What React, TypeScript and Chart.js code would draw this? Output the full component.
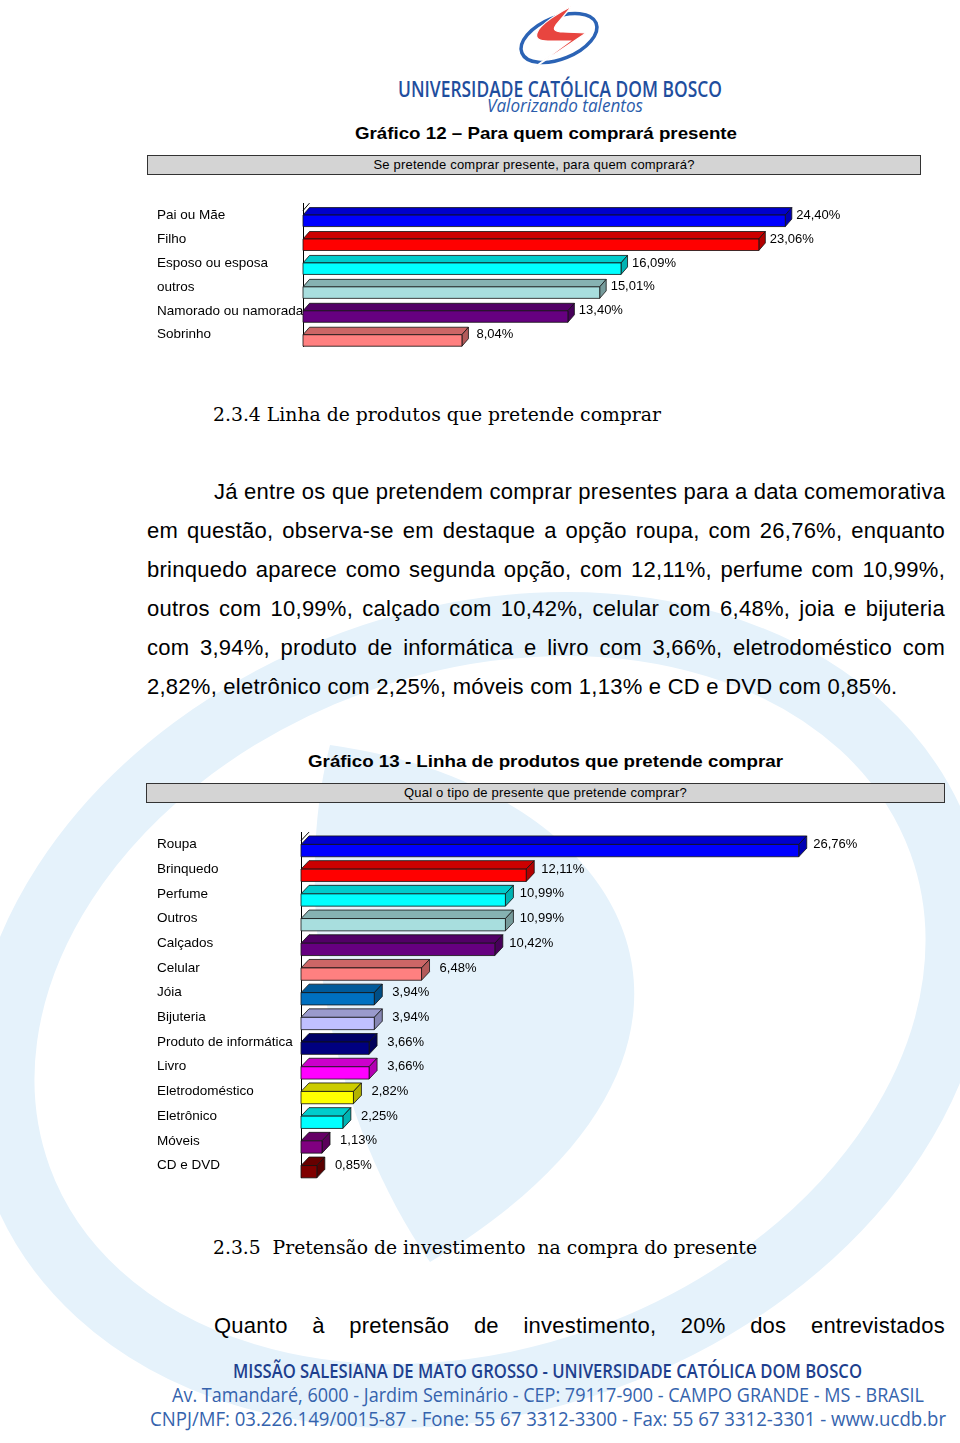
import React, { useEffect, useRef } from 'react';
import { Chart, registerables } from 'chart.js';

Chart.register(...registerables);

// ---------- DATA ----------
const chart1Categories = ['Pai ou Mãe', 'Filho', 'Esposo ou esposa', 'outros', 'Namorado ou namorada', 'Sobrinho'];
const chart1Values = [24.4, 23.06, 16.09, 15.01, 13.4, 8.04];
const chart1Colors = ['#0000FF', '#FF0000', '#00FFFF', '#A8DEDE', '#660080', '#FF8080'];

const chart2Categories = [
  'Roupa', 'Brinquedo', 'Perfume', 'Outros', 'Calçados', 'Celular', 'Jóia', 'Bijuteria',
  'Produto de informática', 'Livro', 'Eletrodoméstico', 'Eletrônico', 'Móveis', 'CD e DVD',
];
const chart2Values = [26.76, 12.11, 10.99, 10.99, 10.42, 6.48, 3.94, 3.94, 3.66, 3.66, 2.82, 2.25, 1.13, 0.85];
const chart2Colors = [
  '#0000FF', '#FF0000', '#00FFFF', '#A8DEDE', '#660080', '#FF8080', '#0070C0', '#C0C0FF',
  '#000080', '#FF00FF', '#FFFF00', '#00FFFF', '#800080', '#800000',
];

const chart1Title = 'Gráfico 12 – Para quem comprará presente';
const chart1Question = 'Se pretende comprar presente, para quem comprará?';
const chart2Title = 'Gráfico 13 - Linha de produtos que pretende comprar';
const chart2Question = 'Qual o tipo de presente que pretende comprar?';

const heading1 = '2.3.4 Linha de produtos que pretende comprar';
const paragraph1 = [
  'Já entre os que pretendem comprar presentes para a data comemorativa',
  'em questão, observa-se em destaque a opção roupa, com 26,76%, enquanto',
  'brinquedo aparece como segunda opção, com 12,11%, perfume com 10,99%,',
  'outros com 10,99%, calçado com 10,42%, celular com 6,48%, joia e bijuteria',
  'com 3,94%, produto de informática e livro com 3,66%, eletrodoméstico com',
  '2,82%, eletrônico com 2,25%, móveis com 1,13% e CD e DVD com 0,85%.',
];
const heading2 = '2.3.5  Pretensão de investimento  na compra do presente';
const paragraph2 = ['Quanto à pretensão de investimento, 20% dos entrevistados'];

const logoLine1 = 'UNIVERSIDADE CATÓLICA DOM BOSCO';
const logoLine2 = 'Valorizando talentos';
const footerLines = [
  'MISSÃO SALESIANA DE MATO GROSSO - UNIVERSIDADE CATÓLICA DOM BOSCO',
  'Av. Tamandaré, 6000 - Jardim Seminário - CEP: 79117-900 - CAMPO GRANDE - MS - BRASIL',
  'CNPJ/MF: 03.226.149/0015-87 - Fone: 55 67 3312-3300 - Fax: 55 67 3312-3301 - www.ucdb.br',
];

const SANS = '"Liberation Sans", Arial, sans-serif';

// ---------- helpers ----------
function shade(hex: string, f: number) {
  const n = parseInt(hex.slice(1), 16);
  const r = Math.round(((n >> 16) & 255) * f);
  const g = Math.round(((n >> 8) & 255) * f);
  const b = Math.round((n & 255) * f);
  return `rgb(${r},${g},${b})`;
}

const fmt = (v: number) => v.toFixed(2).replace('.', ',') + '%';

const bar3dPlugin = {
  id: 'bar3d',
  beforeDatasetDraw() {
    return false;
  },
  afterDatasetsDraw(chart: any, _args: any, opts: any) {
    const { ctx, chartArea } = chart;
    const { dx, dy, fh, labelOffset } = opts;
    ctx.save();
    ctx.strokeStyle = '#000';
    ctx.lineWidth = 1;
    ctx.beginPath();
    ctx.moveTo(chartArea.left, chartArea.top + dy);
    ctx.lineTo(chartArea.left + dx, chartArea.top);
    ctx.stroke();

    chart.data.datasets.forEach((ds: any, di: number) => {
      const meta = chart.getDatasetMeta(di);
      meta.data.forEach((el: any, i: number) => {
        const { x, y, base } = el.getProps(['x', 'y', 'base'], true);
        const col = ds.backgroundColor[i];
        const yt = y;
        const yb = y + fh;
        ctx.lineWidth = 0.8;
        ctx.strokeStyle = '#111';
        ctx.beginPath();
        ctx.moveTo(base, yt);
        ctx.lineTo(base + dx, yt - dy);
        ctx.lineTo(x + dx, yt - dy);
        ctx.lineTo(x, yt);
        ctx.closePath();
        ctx.fillStyle = shade(col, 0.8);
        ctx.fill();
        ctx.stroke();
        ctx.beginPath();
        ctx.moveTo(x, yt);
        ctx.lineTo(x + dx, yt - dy);
        ctx.lineTo(x + dx, yb - dy);
        ctx.lineTo(x, yb);
        ctx.closePath();
        ctx.fillStyle = shade(col, 0.7);
        ctx.fill();
        ctx.stroke();
        ctx.beginPath();
        ctx.rect(base, yt, x - base, fh);
        ctx.fillStyle = col;
        ctx.fill();
        ctx.stroke();
        ctx.fillStyle = '#000';
        ctx.font = `13px ${SANS}`;
        ctx.textAlign = 'center';
        ctx.textBaseline = 'middle';
        ctx.fillText(fmt(ds.data[i]), x + labelOffset, y);
      });
    });
    ctx.restore();
  },
};

type BarCfg = {
  categories: string[];
  values: number[];
  colors: string[];
  width: number;
  height: number;
  axisWidth: number;
  max: number;
  padding: { top: number; bottom: number; left: number; right: number };
  dx: number;
  dy: number;
  fh: number;
  labelOffset: number;
};

function Bar3DChart({ cfg, style }: { cfg: BarCfg; style: React.CSSProperties }) {
  const ref = useRef<HTMLCanvasElement>(null);
  useEffect(() => {
    if (!ref.current) return;
    const chart = new Chart(ref.current, {
      type: 'bar',
      data: {
        labels: cfg.categories,
        datasets: [{ data: cfg.values, backgroundColor: cfg.colors, borderWidth: 0 }],
      },
      options: {
        indexAxis: 'y',
        responsive: false,
        animation: false,
        devicePixelRatio: 1,
        layout: { padding: cfg.padding },
        plugins: {
          legend: { display: false },
          tooltip: { enabled: false },
          bar3d: { dx: cfg.dx, dy: cfg.dy, fh: cfg.fh, labelOffset: cfg.labelOffset },
        } as any,
        scales: {
          x: { type: 'linear', min: 0, max: cfg.max, display: false },
          y: {
            type: 'category',
            grid: { display: false },
            border: { display: true, color: '#000', width: 1 },
            ticks: {
              autoSkip: false,
              crossAlign: 'far',
              color: '#000',
              padding: 0,
              font: { size: 13.5, family: SANS },
            },
            afterFit: (scale: any) => {
              scale.width = cfg.axisWidth;
            },
          },
        },
      },
      plugins: [bar3dPlugin as any],
    });
    return () => chart.destroy();
  }, []);
  return <canvas ref={ref} width={cfg.width} height={cfg.height} style={{ position: 'absolute', ...style }} />;
}

const chart1Cfg: BarCfg = {
  categories: chart1Categories,
  values: chart1Values,
  colors: chart1Colors,
  width: 739,
  height: 160,
  axisWidth: 146,
  max: 30,
  padding: { top: 8, bottom: 8.3, left: 0, right: 0 },
  dx: 6.5,
  dy: 7.5,
  fh: 11.5,
  labelOffset: 33,
};

const chart2Cfg: BarCfg = {
  categories: chart2Categories,
  values: chart2Values,
  colors: chart2Colors,
  width: 760,
  height: 362,
  axisWidth: 144,
  max: 30,
  padding: { top: 8, bottom: 8, left: 0, right: 58 },
  dx: 8,
  dy: 8.5,
  fh: 12.3,
  labelOffset: 36.5,
};

function Txt(p: {
  x: number;
  y: number;
  w?: number;
  size: number;
  family?: string;
  weight?: number | string;
  italic?: boolean;
  fill?: string;
  children: string;
}) {
  return (
    <text
      x={p.x}
      y={p.y}
      fontSize={p.size}
      fontFamily={p.family || SANS}
      fontWeight={p.weight || 400}
      fontStyle={p.italic ? 'italic' : 'normal'}
      fill={p.fill || '#000'}
      textLength={p.w}
      lengthAdjust="spacingAndGlyphs"
      style={{ whiteSpace: 'pre' }}
    >
      {p.children}
    </text>
  );
}

const PARA_FS = 22;
const PARA_LH = 26;

function JustLine({ text, left, width, baseline, justify = true }: { text: string; left: number; width: number; baseline: number; justify?: boolean }) {
  const top = baseline - ((PARA_LH - 1.117 * PARA_FS) / 2 + 0.905 * PARA_FS);
  return (
    <div
      style={{
        position: 'absolute',
        left,
        top,
        width,
        fontFamily: SANS,
        fontSize: PARA_FS,
        letterSpacing: '0.25px',
        lineHeight: `${PARA_LH}px`,
        height: PARA_LH,
        whiteSpace: 'nowrap',
        textAlign: justify ? 'justify' : 'left',
        textAlignLast: (justify ? 'justify' : 'left') as any,
        color: '#000',
      }}
    >
      {text}
    </div>
  );
}

const WM = '#e5f2fb';
const LOGO_BLUE = '#1f4e9e';
const FOOT_BLUE = '#3563ad';
const SERIF = '"DejaVu Serif", "Liberation Serif", serif';
const OPEN = '"Open Sans", "Noto Sans", sans-serif';

export default function App() {
  const paraLines = paragraph1.map((t, i) => {
    const left = i === 0 ? 214 : 147;
    const width = i === 0 ? 731 : i === 5 ? 750 : 798;
    return <JustLine key={i} text={t} left={left} width={width} baseline={500 + i * 39} justify={i !== 5} />;
  });
  return (
    <div
      style={{
        position: 'absolute',
        left: 0,
        top: 0,
        width: 960,
        height: 1443,
        overflow: 'hidden',
        background: '#fff',
      }}
    >
      {/* watermark */}
      <svg width={960} height={1443} style={{ position: 'absolute', left: 0, top: 0 }}>
        <ellipse cx={480} cy={1010} rx={490} ry={370} transform="rotate(-20 480 1010)" fill="none" stroke={WM} strokeWidth={64} />
        <path d="M 330 745 C 650 790, 770 1060, 430 1262 C 330 1120, 290 900, 330 745 Z" fill={WM} />
      </svg>

      {/* texts */}
      <svg width={960} height={1443} style={{ position: 'absolute', left: 0, top: 0 }}>
        <ellipse cx={559} cy={38} rx={40} ry={21} transform="rotate(-22 559 38)" fill="none" stroke="#2b63b5" strokeWidth={3.5} />
        <path
          d="M 572 6 C 560 12, 540 24, 537 33 C 535 39, 540 41, 548 41 L 570 41 L 528 72 L 586 33 L 563 32 C 556 32, 552 30, 556 25 Z"
          fill="#e8453f"
          stroke="#fff"
          strokeWidth={1.2}
        />
        <Txt x={398} y={96.5} w={324} size={21} family={OPEN} weight={600} fill={LOGO_BLUE}>{logoLine1}</Txt>
        <Txt x={487} y={112} w={156} size={19} family={OPEN} italic fill="#2b5cab">{logoLine2}</Txt>

        <Txt x={355} y={139} w={382} size={17} weight={700}>{chart1Title}</Txt>
        <Txt x={213} y={420.5} w={448} size={19} family={SERIF}>{heading1}</Txt>
        <Txt x={308} y={767} w={475} size={17} weight={700}>{chart2Title}</Txt>
        <Txt x={213} y={1254} w={544} size={19} family={SERIF}>{heading2}</Txt>

        <Txt x={233} y={1377.5} w={629} size={19} family={OPEN} weight={600} fill="#1e3f8e">{footerLines[0]}</Txt>
        <Txt x={172} y={1402} w={752} size={20} family={OPEN} fill={FOOT_BLUE}>{footerLines[1]}</Txt>
        <Txt x={150} y={1425.5} w={796} size={20} family={OPEN} fill={FOOT_BLUE}>{footerLines[2]}</Txt>
      </svg>

      {/* question boxes */}
      <div
        style={{
          position: 'absolute',
          left: 147,
          top: 155,
          width: 772,
          height: 18,
          background: '#d4d4d4',
          border: '1px solid #333',
          fontFamily: SANS,
          fontSize: 13,
          letterSpacing: '0.2px',
          lineHeight: '18px',
          textAlign: 'center',
        }}
      >
        {chart1Question}
      </div>
      <div
        style={{
          position: 'absolute',
          left: 146,
          top: 783,
          width: 797,
          height: 18,
          background: '#d4d4d4',
          border: '1px solid #333',
          fontFamily: SANS,
          fontSize: 13,
          letterSpacing: '0.2px',
          lineHeight: '18px',
          textAlign: 'center',
        }}
      >
        {chart2Question}
      </div>

      {paraLines}
      <JustLine text={paragraph2[0]} left={214} width={731} baseline={1334} />

      <Bar3DChart cfg={chart1Cfg} style={{ left: 157, top: 195 }} />
      <Bar3DChart cfg={chart2Cfg} style={{ left: 157, top: 824 }} />
    </div>
  );
}
